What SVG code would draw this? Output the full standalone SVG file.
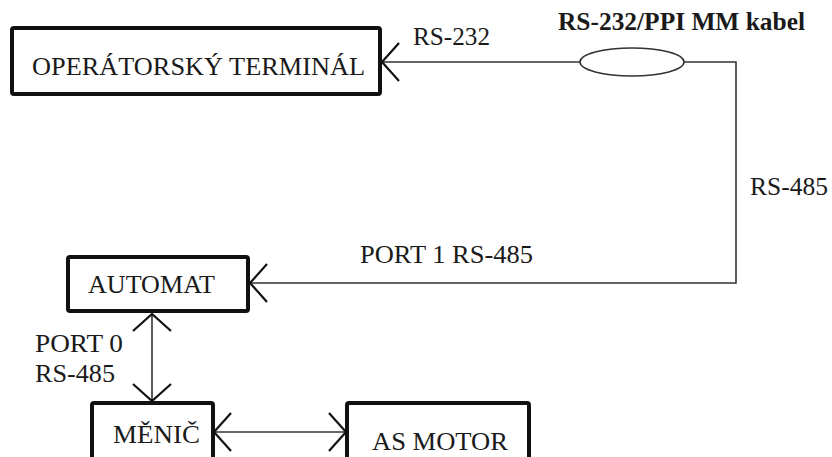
<svg xmlns="http://www.w3.org/2000/svg" width="832" height="457" viewBox="0 0 832 457">
<style>
.box{fill:#fff;stroke:#111;stroke-width:4;stroke-linejoin:round}
.t{font-family:"Liberation Serif","Times New Roman",serif;font-size:25px;fill:#1a1a1a}
.b{font-weight:bold}
.c{fill:none;stroke:#333;stroke-width:1.6}
</style>
<defs>
<marker id="arr" markerUnits="userSpaceOnUse" viewBox="-20 -22 22 44" refX="0" refY="0" markerWidth="22" markerHeight="44" orient="auto-start-reverse" overflow="visible">
<path d="M-17,-19 L0,0 L-17,19" fill="none" stroke="#111" stroke-width="2.2"/>
</marker>
</defs>
<rect width="832" height="457" fill="#fff"/>
<g id="connectors">
<path class="c" d="M580,62 L382,62" marker-end="url(#arr)"/>
<ellipse class="c" cx="632" cy="62" rx="52" ry="14"/>
<path class="c" d="M684,62 L736,62 L736,283 L250,283" marker-end="url(#arr)"/>
<path class="c" d="M152,314 L152,401" marker-start="url(#arr)" marker-end="url(#arr)"/>
<path class="c" d="M214,432 L346,432" marker-start="url(#arr)" marker-end="url(#arr)"/>
<text class="t" x="413" y="45" textLength="77" lengthAdjust="spacingAndGlyphs">RS-232</text>
<text class="t b" x="558" y="30" textLength="247" lengthAdjust="spacingAndGlyphs">RS-232/PPI MM kabel</text>
<text class="t" x="750" y="195" textLength="78" lengthAdjust="spacingAndGlyphs">RS-485</text>
<text class="t" x="360" y="263" textLength="173" lengthAdjust="spacingAndGlyphs">PORT 1 RS-485</text>
<text class="t" x="35" y="352" textLength="88" lengthAdjust="spacingAndGlyphs">PORT 0</text>
<text class="t" x="35" y="382" textLength="80" lengthAdjust="spacingAndGlyphs">RS-485</text>
</g>
<g id="terminal">
<rect class="box" x="12" y="28" width="368" height="66" rx="2"/>
<text class="t" x="32" y="75" font-size="26" textLength="333" lengthAdjust="spacingAndGlyphs">OPERÁTORSKÝ TERMINÁL</text>
</g>
<g id="automat">
<rect class="box" x="68" y="257" width="180" height="54" rx="2"/>
<text class="t" x="88" y="293" textLength="127" lengthAdjust="spacingAndGlyphs">AUTOMAT</text>
</g>
<g id="menic">
<rect class="box" x="92" y="403" width="121" height="70" rx="2"/>
<text class="t" x="113" y="443" textLength="87" lengthAdjust="spacingAndGlyphs">MĚNIČ</text>
</g>
<g id="motor">
<rect class="box" x="347" y="403" width="182" height="70" rx="2"/>
<text class="t" x="372" y="450" textLength="136" lengthAdjust="spacingAndGlyphs">AS MOTOR</text>
</g>
</svg>
